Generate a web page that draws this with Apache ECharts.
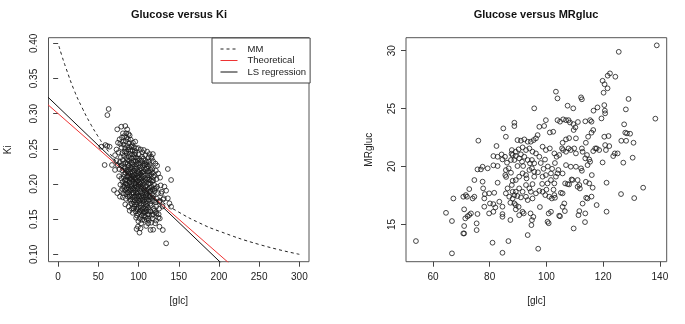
<!DOCTYPE html>
<html>
<head>
<meta charset="utf-8">
<script src="https://cdn.jsdelivr.net/npm/echarts@6/dist/echarts.min.js"></script>
<style>
  html, body { margin: 0; padding: 0; background: #fff; }
  #chart { width: 685px; height: 324px; }
</style>
</head>
<body>
<div id="chart"></div>
<script>
// left panel: glc vs Ki scatter
const kiPoints = [
  [62.8,0.3066],[61.2,0.298],[73.5,0.2777],[78.5,0.2815],[83.5,0.2824],[85.9,0.2777],[87.6,0.271],[84.7,0.272],[80.6,0.272],
  [58.7,0.2554],[53.7,0.253],[64.0,0.253],[76.4,0.2635],[80.6,0.2602],[74.4,0.2587],[93.0,0.2587],[95.9,0.2602],[90.9,0.2531],[97.1,0.2507],[86.8,0.2635],
  [106.6,0.2483],[110.7,0.246],[113.6,0.2426],[115.7,0.2388],[117.8,0.2426],[123.1,0.226],[136.4,0.2213],[57.8,0.227],[66.9,0.227],[69.4,0.1914],[140.5,0.2057],
  [132.2,0.1962],[134.3,0.1905],[128.1,0.1867],[131.4,0.1796],[136.4,0.1796],[126.0,0.1749],[138.4,0.1725],[140.5,0.1678],
  [101.2,0.1512],[103.3,0.1441],[107.4,0.1488],[111.6,0.1512],[115.7,0.145],[120.7,0.1441],[126.0,0.1393],[130.2,0.1346],
  [99.2,0.1393],[102.5,0.137],[101.2,0.1308],[109.5,0.1403],[114.9,0.1346],[134.3,0.1156],
  [76.9,0.182],[73.5,0.187],[70.7,0.22],[61.0,0.254],[122.3,0.158],[126.4,0.151],[118.2,0.135],[97.5,0.136],[112.0,0.144],
  [82.1,0.268],[85.3,0.266],[88.9,0.269],[79.4,0.266],[90.2,0.263],[84.0,0.261],
  [77.2,0.257],[81.5,0.256],[85.8,0.254],[88.4,0.258],[91.7,0.255],[94.3,0.252],[99.5,0.251],[83.3,0.251],[78.9,0.252],[102.8,0.249],[87.0,0.249],[72.6,0.249],
  [75.1,0.245],[79.8,0.244],[84.5,0.246],[89.2,0.243],[92.6,0.247],[96.1,0.244],[100.4,0.242],[104.7,0.245],[108.3,0.241],[112.5,0.238],[81.9,0.240],[87.6,0.239],[94.0,0.238],[98.2,0.236],[70.8,0.241],[116.4,0.236],[106.0,0.236],
  [72.4,0.233],[76.7,0.231],[80.3,0.234],[83.8,0.230],[86.4,0.234],[90.5,0.231],[93.2,0.228],[96.7,0.232],[99.9,0.229],[103.4,0.233],[106.8,0.229],[110.1,0.231],[113.9,0.228],[118.2,0.232],[121.0,0.229],[78.5,0.226],[88.0,0.226],[101.6,0.225],[115.6,0.224],[74.0,0.227],
  [76.3,0.221],[79.9,0.219],[83.1,0.222],[85.7,0.218],[89.4,0.221],[92.0,0.217],[95.3,0.222],[98.4,0.218],[101.2,0.220],[104.9,0.217],[108.1,0.221],[111.3,0.218],[114.6,0.220],[117.9,0.216],[121.5,0.219],[124.4,0.215],[87.2,0.215],[96.8,0.214],[106.5,0.214],[92.9,0.224],[82.0,0.214],
  [75.8,0.211],[78.6,0.208],[81.7,0.210],[84.2,0.206],[86.9,0.211],[90.3,0.208],[93.5,0.210],[96.0,0.206],[99.0,0.211],[102.3,0.207],[105.2,0.210],[108.7,0.206],[111.9,0.209],[115.2,0.205],[118.5,0.210],[122.3,0.207],[126.8,0.209],[89.1,0.204],[100.5,0.203],[113.0,0.212],[95.0,0.213],[80.2,0.203],
  [77.4,0.199],[81.0,0.197],[83.6,0.201],[86.1,0.198],[88.7,0.202],[91.6,0.197],[94.4,0.200],[97.5,0.196],[100.0,0.199],[103.1,0.196],[106.3,0.200],[109.2,0.197],[112.6,0.200],[116.0,0.196],[119.3,0.199],[123.0,0.196],[127.5,0.198],[92.5,0.204],[104.0,0.203],[85.0,0.194],[98.8,0.193],[110.6,0.192],
  [78.2,0.190],[80.9,0.187],[83.4,0.191],[87.3,0.188],[90.0,0.192],[93.1,0.188],[95.8,0.191],[98.5,0.186],[101.7,0.190],[104.6,0.187],[107.3,0.191],[110.0,0.186],[113.4,0.189],[116.7,0.186],[120.2,0.190],[124.1,0.187],[129.0,0.189],[88.6,0.185],[96.9,0.184],[105.8,0.184],[114.3,0.183],[92.0,0.194],
  [80.5,0.181],[84.1,0.179],[86.8,0.182],[89.9,0.178],[92.7,0.181],[95.4,0.177],[98.1,0.180],[101.0,0.176],[103.9,0.180],[106.9,0.177],[109.8,0.181],[112.9,0.177],[116.2,0.180],[119.6,0.176],[122.8,0.179],[126.4,0.176],[130.5,0.178],[99.6,0.183],[108.3,0.174],[94.0,0.174],
  [83.5,0.171],[87.5,0.168],[91.2,0.172],[94.5,0.168],[97.3,0.171],[100.2,0.167],[103.0,0.170],[105.9,0.166],[108.9,0.170],[112.0,0.166],[115.3,0.169],[118.8,0.165],[122.0,0.168],[125.6,0.165],[129.8,0.168],[101.5,0.173],[110.5,0.173],
  [89.0,0.162],[92.8,0.159],[96.2,0.161],[99.4,0.158],[102.6,0.162],[105.4,0.158],[108.2,0.161],[111.4,0.157],[114.7,0.161],[118.0,0.157],[121.5,0.160],[125.0,0.157],[103.8,0.155],[116.5,0.155],
  [97.0,0.152],[104.5,0.149],[108.0,0.153],[112.8,0.148],[117.6,0.151],[121.8,0.148],[124.5,0.152],[99.8,0.147],
  [86.5,0.229],[91.0,0.236],[95.6,0.225],[99.2,0.233],[103.7,0.222],[107.5,0.226],[111.1,0.213],[88.4,0.212],[92.2,0.207],[97.1,0.203],[101.9,0.214],[105.5,0.205],[109.6,0.202],[113.7,0.195],[86.0,0.205],[90.8,0.200],[94.9,0.195],[99.0,0.188],[103.3,0.193],[107.7,0.188],[112.0,0.182],[87.9,0.195],[91.4,0.185],[95.2,0.182],[98.0,0.174],[102.4,0.178],[106.1,0.172],[110.3,0.178],[114.6,0.172],[89.6,0.176],[93.8,0.165],[97.7,0.165],[101.3,0.160],[105.0,0.163],[108.6,0.165],[112.2,0.161],[84.6,0.186],[83.0,0.196],[82.4,0.225],[85.0,0.237],[89.9,0.247],[94.7,0.242],[97.8,0.228],[100.6,0.236],[104.2,0.239],[108.0,0.233],[111.8,0.225],[115.8,0.213],[117.0,0.203],[119.9,0.193],[118.1,0.183],[121.0,0.174],[96.4,0.209],[100.3,0.217],[103.6,0.212],[93.0,0.215],[90.6,0.223],[87.0,0.220],[96.2,0.197],[98.9,0.205],[102.1,0.200],[105.8,0.195],[94.0,0.187],[100.8,0.182],[104.8,0.176],[109.0,0.184],[113.0,0.206],[115.0,0.190],[91.8,0.230],[85.2,0.243],
  [88.0,0.233],[93.6,0.233],[97.0,0.238],[102.0,0.229],[105.1,0.226],[109.4,0.228],[112.7,0.232],[83.7,0.216],[86.3,0.224],[89.7,0.217],[94.2,0.219],[97.6,0.222],[100.9,0.209],[104.1,0.216],[107.0,0.218],[110.2,0.222],[113.5,0.216],[117.1,0.221],[120.0,0.212],[82.9,0.205],[85.6,0.210],[88.9,0.207],[92.6,0.212],[95.4,0.208],[99.4,0.215],[103.8,0.208],[106.9,0.203],[110.8,0.207],[114.2,0.201],[118.2,0.205],[79.6,0.193],[84.3,0.200],[87.2,0.192],[90.5,0.196],[93.6,0.193],[96.6,0.201],[99.7,0.196],[102.9,0.188],[106.5,0.193],[109.9,0.190],[112.9,0.193],[117.4,0.192],[121.7,0.194],[85.8,0.188],[89.0,0.182],[92.3,0.178],[96.8,0.188],[99.6,0.177],[103.2,0.183],[106.8,0.181],[110.6,0.169],[113.8,0.181],[117.5,0.176],[91.6,0.165],[95.3,0.171],[99.0,0.163],[102.7,0.166],[106.6,0.160],[110.1,0.163],[113.2,0.157],[119.7,0.162],[98.1,0.155],[106.9,0.155],[110.0,0.150],[92.0,0.242],[95.5,0.247],[88.0,0.252],[82.7,0.246],[78.0,0.238],[80.8,0.229]
];

// MM curve
const mmGlc = [1, 5, 10, 20, 30, 40, 50, 60, 80, 100, 125, 150, 175, 200, 250, 300];
const mmKi  = [0.396, 0.381, 0.364, 0.333, 0.308, 0.286, 0.267, 0.250, 0.222, 0.200, 0.178, 0.160, 0.145, 0.133, 0.114, 0.100];

// straight lines (ends fall outside the box and get clipped)
const lineGlc = [-20, 230];
const theoKi  = [0.320, 0.070];
const lsKi    = [0.3315, 0.0578];

// right panel: glc vs MRgluc
const mrPoints = [
  [54.0,13.56],[66.7,12.5],[64.6,16.0],[66.7,15.29],[67.2,17.24],[70.7,17.39],[71.6,17.53],[71.0,16.3],[71.4,15.52],[71.0,14.86],
  [70.7,14.22],[71.0,14.22],[72.8,18.05],[72.0,17.39],[74.6,17.39],[74.0,17.24],[72.8,15.81],[73.4,15.95],[72.2,15.7],[75.7,15.9],
  [75.4,15.09],[75.4,14.51],[74.6,18.83],[75.7,19.75],[76.9,19.75],[76.0,22.23],[77.5,18.69],[77.7,18.11],[77.5,19.98],[79.3,19.84],
  [78.3,17.62],[79.8,17.68],[81.6,17.73],[78.1,17.24],[78.1,16.53],[80.1,16.81],[81.3,16.75],[82.0,16.47],[83.4,16.96],[84.5,16.53],
  [79.8,15.95],[81.3,16.09],[84.5,15.89],[84.5,15.66],[87.3,15.38],[81.0,13.42],[86.6,13.56],[84.5,12.55],[93.4,14.08],[94.9,15.37],
  [94.7,14.94],[81.3,20.9],[82.8,20.84],[84.5,20.61],[85.4,20.84],[84.2,21.04],[82.4,21.77],[81.3,20.1],[82.8,20.04],[86.1,20.33],
  [86.7,19.84],[85.7,19.69],[85.5,19.26],[87.5,19.46],[82.8,18.6],[85.7,17.68],[86.9,17.39],[88.1,17.24],[86.3,18.11],[87.3,16.87],
  [88.7,16.81],[89.2,16.67],[89.2,16.3],[90.2,16.52],[91.6,16.09],[90.4,15.8],[92.8,17.39],[91.6,17.82],[90.4,18.11],[92.8,18.4],
  [94.0,18.11],[95.1,18.48],[94.5,17.82],[93.4,17.1],[95.1,17.24],[89.2,17.82],[88.7,17.53],[88.1,17.82],[89.8,17.45],[91.0,17.33],
  [87.8,18.4],[88.1,18.77],[89.2,18.83],[90.4,19.12],[91.6,19.41],[92.8,19.26],[93.0,18.97],[94.0,19.7],[94.9,19.84],[95.7,19.55],
  [95.7,19.12],[94.2,20.27],[93.4,20.56],[94.9,20.56],[95.7,20.27],[91.8,20.04],[91.4,20.41],[89.8,20.04],[88.7,20.56],[87.5,20.56],
  [90.4,20.7],[89.2,20.9],[88.1,20.99],[87.8,21.42],[89.2,21.28],[90.2,21.48],[91.6,21.65],[92.8,21.42],[91.0,21.05],[92.2,20.84],
  [94.0,21.56],[95.1,21.28],[89.8,22.28],[91.0,22.23],[92.2,22.34],[93.4,22.14],[94.5,22.14],[95.5,22.28],[85.7,22.57],[84.8,23.29],
  [88.7,23.78],[88.7,23.49],[95.7,25.02],[92.0,15.95],[94.4,15.95],[95.4,15.65],[87.7,21.1],[85.8,19.1],
  [138.9,30.46],[125.5,29.9],[122.4,28.04],[121.6,27.84],[124.3,27.75],[119.8,27.4],[120.5,27.1],[121.55,26.75],[120.15,26.37],[103.35,26.46],
  [103.9,25.88],[112.2,25.97],[112.5,25.8],[128.95,25.83],[107.46,25.25],[109.46,25.02],[116.6,24.82],[118.0,25.1],[120.4,25.3],[120.6,24.82],
  [120.7,24.59],[128.0,24.93],[138.4,24.13],[119.4,24.15],[127.4,23.64],[99.8,24.0],[99.2,23.5],[103.9,24.0],[104.8,23.87],[105.9,24.07],
  [106.9,24.0],[107.8,24.0],[108.3,23.8],[109.5,23.66],[110.2,23.38],[109.6,23.15],[111.1,23.84],[113.7,23.9],[115.4,24.0],[115.9,23.87],
  [116.5,23.15],[115.9,22.92],[127.8,22.92],[128.4,22.86],[129.5,22.83],[126.4,22.22],[128.1,22.22],[130.7,22.05],[120.4,22.57],[121.9,22.63],
  [97.5,23.43],[96.9,22.71],[96.3,22.43],[101.2,22.94],[102.4,23.0],[106.9,22.34],[108.0,22.45],[105.7,22.05],[110.4,22.43],[114.7,22.57],
  [117.7,21.56],[118.6,21.42],[120.7,21.85],[122.15,21.76],[120.97,21.42],[124.1,21.13],[123.55,20.9],[125.1,21.13],[127.1,20.33],[130.4,20.76],
  [119.8,20.35],[117.2,21.56],[116.5,21.33],[114.3,20.99],[113.7,20.7],[115.1,20.61],[114.5,20.12],[115.4,20.41],[112.75,21.27],[112.5,21.56],
  [113.9,22.05],[108.6,21.42],[109.8,21.56],[110.4,21.13],[107.8,21.56],[105.5,21.56],[105.9,21.42],[106.9,21.27],[104.5,20.99],[103.6,20.84],
  [102.8,21.13],[101.2,21.56],[99.8,21.42],[98.65,21.71],[97.5,20.84],[96.3,21.13],[106.9,20.12],[108.6,19.98],[110.4,19.98],[112.2,19.84],
  [112.5,19.63],[108.9,18.88],[109.2,18.83],[111.0,18.83],[105.7,19.4],[103.9,19.4],[103.35,19.12],[101.6,19.4],[99.8,19.26],[98.65,19.12],
  [101.6,18.83],[102.8,18.54],[100.4,18.54],[107.46,18.48],[106.6,18.54],[111.0,18.25],[111.6,18.4],[111.8,18.1],[113.9,18.68],[115.1,18.54],
  [116.0,19.26],[121.2,18.6],[116.3,18.17],[114.5,17.24],[112.75,16.8],[117.7,16.67],[126.3,17.62],[134.1,18.17],[130.95,17.27],[121.2,16.1],
  [113.7,15.95],[111.6,16.15],[111.3,15.8],[109.6,14.65],[106.3,16.81],[105.7,16.52],[104.5,15.75],[100.4,15.23],[100.8,15.1],[101.6,16.09],
  [100.8,15.95],[99.6,17.53],[101.0,17.39],[101.9,17.24],[102.8,17.53],[98.65,17.82],[97.5,17.9],[96.3,17.68],[105.1,17.73],[105.7,17.68],
  [97.1,12.9],[97.7,16.5],[103.0,17.3],[104.8,15.7],[106.5,16.15],[108.0,18.45],[113.6,15.2],[115.9,17.4],[114.0,17.3],
  [98.0,20.3],[99.5,20.6],[100.5,20.0],[102.0,19.8],[103.0,20.3],[104.2,19.7],[98.5,18.5],[100.0,18.0],[102.5,18.0],[97.0,19.5],[99.0,19.8]
];

const kiTicks = [0.10, 0.15, 0.20, 0.25, 0.30, 0.35, 0.40];
const glcTicksL = [0, 50, 100, 150, 200, 250, 300];
const glcTicksR = [60, 80, 100, 120, 140];
const mrTicks = [15, 20, 25, 30];

const font = 'Liberation Sans, Arial, Helvetica, sans-serif';
const ink = '#222';

function xAx(idx, min, max, ticks) {
  return {
    type: 'value', gridIndex: idx, min: min, max: max,
    name: '[glc]', nameLocation: 'middle', nameGap: 35,
    nameTextStyle: { fontFamily: font, fontSize: 10, color: ink },
    axisLine: { show: false },
    axisTick: { show: true, inside: false, length: 5, customValues: ticks, lineStyle: { color: '#444' } },
    axisLabel: { customValues: ticks, margin: 11, fontFamily: font, fontSize: 10, color: ink },
    splitLine: { show: false }
  };
}

function yAx(idx, min, max, ticks, name, gap, fmt) {
  return {
    type: 'value', gridIndex: idx, min: min, max: max,
    name: name, nameLocation: 'middle', nameGap: gap,
    nameTextStyle: { fontFamily: font, fontSize: 10, color: ink },
    axisLine: { show: false },
    axisTick: { show: true, inside: false, length: 5, customValues: ticks, lineStyle: { color: '#444' } },
    axisLabel: { customValues: ticks, rotate: 90, margin: 9, fontFamily: font, fontSize: 10, color: ink, formatter: fmt },
    splitLine: { show: false }
  };
}

const circle = {
  symbol: 'circle', symbolSize: 4.8,
  itemStyle: { color: 'rgba(0,0,0,0)', borderColor: '#1a1a1a', borderWidth: 1 }
};

let chart = echarts.init(document.getElementById('chart'));
let option = {
  backgroundColor: '#fff',
  animation: false,
  title: [
    { text: 'Glucose versus Ki', left: 179, top: 9, textAlign: 'center', padding: 0,
      textStyle: { fontFamily: font, fontSize: 11, fontWeight: 'bold', color: '#111' } },
    { text: 'Glucose versus MRgluc', left: 536, top: 9, textAlign: 'center', padding: 0,
      textStyle: { fontFamily: font, fontSize: 11, fontWeight: 'bold', color: '#111' } }
  ],
  grid: [
    { left: 48.5, top: 37.7, width: 260.5, height: 224, show: true, borderColor: '#555', borderWidth: 1, backgroundColor: 'transparent' },
    { left: 406, top: 37.7, width: 260.7, height: 224, show: true, borderColor: '#555', borderWidth: 1, backgroundColor: 'transparent' }
  ],
  xAxis: [
    xAx(0, -12, 312, glcTicksL),
    xAx(1, 50.5, 142.4, glcTicksR)
  ],
  yAxis: [
    yAx(0, 0.0895, 0.408, kiTicks, 'Ki', 35, v => v.toFixed(2)),
    yAx(1, 11.78, 31.12, mrTicks, 'MRgluc', 32, v => String(v))
  ],
  legend: {
    data: ['MM', 'Theoretical', 'LS regression'],
    orient: 'vertical', left: 212, top: 38,
    padding: [6, 4, 6, 8], itemGap: 1.5, itemWidth: 17, itemHeight: 10,
    itemStyle: { opacity: 0 },
    lineStyle: { width: 1 },
    backgroundColor: '#fff', borderColor: '#444', borderWidth: 1, borderRadius: 0,
    textStyle: { fontFamily: font, fontSize: 9.5, color: ink, padding: [0, 0, 0, 5] }
  },
  series: [
    Object.assign({ type: 'scatter', xAxisIndex: 0, yAxisIndex: 0, data: kiPoints, z: 3 }, circle),
    {
      name: 'MM', type: 'line', xAxisIndex: 0, yAxisIndex: 0, symbol: 'none', smooth: true,
      data: mmGlc.map((g, i) => [g, mmKi[i]]),
      lineStyle: { color: '#222', width: 1, type: [3, 3] }, itemStyle: { color: '#222' }
    },
    {
      name: 'Theoretical', type: 'line', xAxisIndex: 0, yAxisIndex: 0, symbol: 'none',
      data: lineGlc.map((g, i) => [g, theoKi[i]]),
      lineStyle: { color: '#ee3333', width: 1 }, itemStyle: { color: '#ee3333' }
    },
    {
      name: 'LS regression', type: 'line', xAxisIndex: 0, yAxisIndex: 0, symbol: 'none',
      data: lineGlc.map((g, i) => [g, lsKi[i]]),
      lineStyle: { color: '#111', width: 1 }, itemStyle: { color: '#111' }
    },
    Object.assign({ type: 'scatter', xAxisIndex: 1, yAxisIndex: 1, data: mrPoints, z: 3 }, circle)
  ]
};
chart.setOption(option);
</script>
</body>
</html>
